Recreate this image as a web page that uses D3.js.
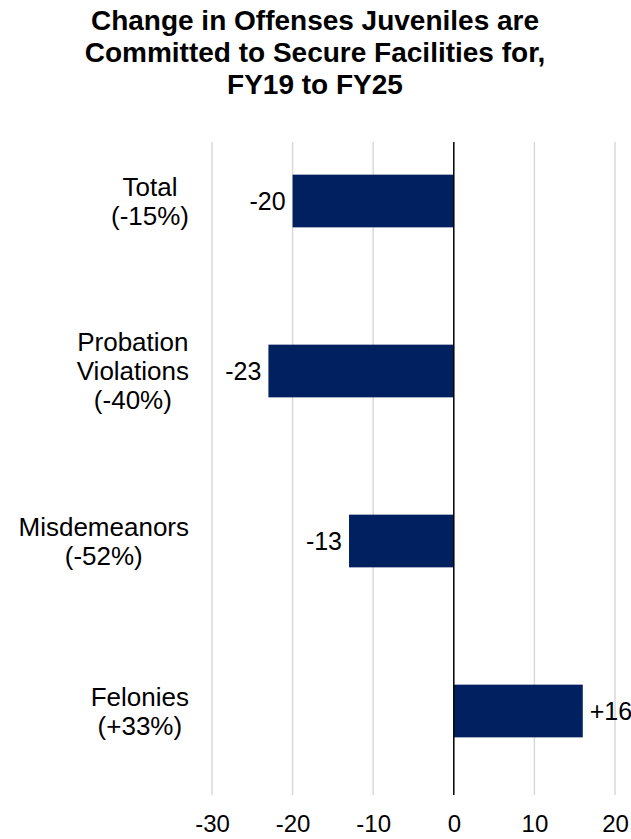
<!DOCTYPE html>
<html>
<head>
<meta charset="utf-8">
<script src="https://cdn.jsdelivr.net/npm/d3@7"></script>
<style>
  body { margin: 0; background: #fff; }
  svg { display: block; font-family: Arial, "Liberation Sans", sans-serif; }
</style>
</head>
<body>
<svg id="chart"></svg>
<script>
// data
const categories = ["Total", "Probation Violations", "Misdemeanors", "Felonies"];
const labelLines = [["Total", "(-15%)"], ["Probation", "Violations", "(-40%)"], ["Misdemeanors", "(-52%)"], ["Felonies", "(+33%)"]];
const changes = [-20, -23, -13, 16];
const valueLabels = ["-20", "-23", "-13", "+16"];
const xTicks = [-30, -20, -10, 0, 10, 20];
const titleLines = ["Change in Offenses Juveniles are", "Committed to Secure Facilities for,", "FY19 to FY25"];

const width = 631;
const height = 839;
const svg = d3.select("#chart").attr("width", width).attr("height", height);

const x = d3.scaleLinear().domain([-30, 20]).range([212, 615]);
const y = d3.scaleBand().domain(categories).range([116, 796]).paddingInner(0.69).paddingOuter(0.345);

// title
svg.append("text")
  .attr("text-anchor", "middle")
  .attr("font-weight", "bold")
  .attr("font-size", 28)
  .selectAll("tspan").data(titleLines).enter().append("tspan")
  .attr("x", 315)
  .attr("y", (d, i) => 30 + i * 32)
  .text(d => d);

// gridlines
const gridTop = 142, gridBottom = 795;
svg.append("g").selectAll("line")
  .data(xTicks.filter(t => t !== 0)).enter().append("line")
  .attr("x1", d => x(d)).attr("x2", d => x(d))
  .attr("y1", gridTop).attr("y2", gridBottom)
  .attr("stroke", "#d9d9d9").attr("stroke-width", 1.5);

// bars
svg.append("g").selectAll("rect")
  .data(changes).enter().append("rect")
  .attr("x", d => x(Math.min(0, d)))
  .attr("y", (d, i) => y(categories[i]))
  .attr("width", d => Math.abs(x(d) - x(0)))
  .attr("height", y.bandwidth())
  .attr("fill", "#002060");

// zero line
svg.append("line")
  .attr("x1", x(0)).attr("x2", x(0))
  .attr("y1", gridTop).attr("y2", gridBottom)
  .attr("stroke", "#000").attr("stroke-width", 1.5);

// value labels
svg.append("g").selectAll("text")
  .data(changes).enter().append("text")
  .attr("x", d => d < 0 ? x(d) - 7 : x(d) + 7)
  .attr("y", (d, i) => y(categories[i]) + y.bandwidth() / 2)
  .attr("dy", "0.35em")
  .attr("text-anchor", d => d < 0 ? "end" : "start")
  .attr("font-size", 25)
  .attr("fill", "#000")
  .text((d, i) => valueLabels[i]);

// category labels: block centred so the widest line ends at the label edge
const labelEdge = 189;
const lineH = 29;
const catG = svg.append("g");
labelLines.forEach((lines, i) => {
  const t = catG.append("text")
    .attr("font-size", 26)
    .attr("text-anchor", "middle");
  const cy = y(categories[i]) + y.bandwidth() / 2;
  lines.forEach((ln, j) => {
    t.append("tspan")
      .attr("y", cy + (j - (lines.length - 1) / 2) * lineH)
      .attr("dy", "0.35em")
      .text(ln);
  });
  let maxW = 0;
  t.selectAll("tspan").each(function () { maxW = Math.max(maxW, this.getComputedTextLength()); });
  t.selectAll("tspan").attr("x", labelEdge - maxW / 2);
});

// x axis tick labels
const xAxis = svg.append("g")
  .attr("transform", `translate(0, ${gridBottom})`)
  .call(d3.axisBottom(x).tickValues(xTicks).tickSize(0).tickPadding(20)
    .tickFormat(d => String(d)));
xAxis.select(".domain").remove();
xAxis.selectAll("text")
  .attr("font-size", 24)
  .attr("font-family", "Arial, 'Liberation Sans', sans-serif")
  .attr("fill", "#000");
</script>
</body>
</html>
